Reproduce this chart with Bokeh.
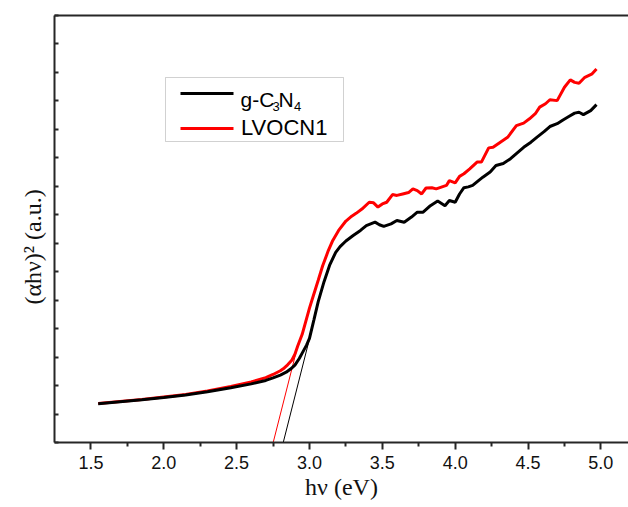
from bokeh.plotting import figure
from bokeh.models import Range1d, FixedTicker, LinearAxis, Label, BoxAnnotation
from bokeh.embed import file_html
from bokeh.resources import INLINE

# ---------------- data ----------------
gcn_x = [1.55, 1.70, 1.85, 2.00, 2.15, 2.30, 2.46, 2.60, 2.70, 2.75, 2.80, 2.84, 2.87, 2.90,
         2.93, 2.95, 2.98, 3.00, 3.03, 3.06, 3.10, 3.14, 3.18, 3.21, 3.25, 3.30, 3.35, 3.39,
         3.45, 3.48, 3.51, 3.56, 3.60, 3.65, 3.70, 3.74, 3.78, 3.83, 3.88, 3.93, 3.96, 4.00,
         4.03, 4.06, 4.09, 4.12, 4.16, 4.19, 4.24, 4.28, 4.33, 4.38, 4.42, 4.47, 4.52, 4.56,
         4.61, 4.65, 4.70, 4.74, 4.78, 4.82, 4.85, 4.88, 4.93, 4.97]
gcn_y = [1.36, 1.43, 1.50, 1.58, 1.67, 1.78, 1.92, 2.06, 2.18, 2.27, 2.37, 2.47, 2.58, 2.72,
         2.95, 3.14, 3.42, 3.66, 4.30, 4.95, 5.65, 6.25, 6.68, 6.88, 7.08, 7.27, 7.45, 7.62,
         7.74, 7.65, 7.59, 7.68, 7.80, 7.74, 7.92, 8.09, 8.09, 8.32, 8.48, 8.32, 8.50, 8.44,
         8.73, 8.95, 8.98, 9.03, 9.20, 9.32, 9.50, 9.73, 9.80, 9.97, 10.15, 10.37, 10.55, 10.72,
         10.92, 11.10, 11.20, 11.33, 11.45, 11.57, 11.60, 11.52, 11.66, 11.87]

lvocn_x = [1.55, 1.70, 1.85, 2.00, 2.15, 2.30, 2.46, 2.60, 2.70, 2.75, 2.80, 2.82, 2.85, 2.88,
           2.90, 2.92, 2.95, 2.97, 3.00, 3.02, 3.06, 3.09, 3.13, 3.16, 3.20, 3.25, 3.29, 3.32,
           3.36, 3.41, 3.44, 3.47, 3.50, 3.53, 3.57, 3.60, 3.64, 3.68, 3.71, 3.74, 3.77, 3.80,
           3.84, 3.87, 3.91, 3.94, 3.96, 4.00, 4.03, 4.06, 4.10, 4.15, 4.18, 4.23, 4.26, 4.31,
           4.36, 4.42, 4.47, 4.51, 4.55, 4.58, 4.62, 4.65, 4.70, 4.75, 4.79, 4.82, 4.85, 4.89,
           4.94, 4.97]
lvocn_y = [1.37, 1.44, 1.51, 1.60, 1.69, 1.81, 1.97, 2.13, 2.28, 2.39, 2.52, 2.59, 2.73, 2.90,
           3.10, 3.40, 3.80, 4.17, 4.72, 5.05, 5.70, 6.20, 6.75, 7.10, 7.45, 7.78, 7.95, 8.05,
           8.20, 8.44, 8.42, 8.27, 8.38, 8.44, 8.71, 8.68, 8.73, 8.78, 8.91, 8.85, 8.73, 8.94,
           8.95, 8.91, 8.98, 9.03, 9.20, 9.12, 9.35, 9.44, 9.61, 9.85, 9.85, 10.35, 10.37, 10.55,
           10.72, 11.13, 11.22, 11.37, 11.55, 11.78, 11.90, 12.04, 12.01, 12.48, 12.74, 12.65, 12.62, 12.83,
           12.95, 13.12]

# tangent (onset) lines
tan_lvocn_x = [2.751, 2.923]
tan_lvocn_y = [0.0, 3.47]
tan_gcn_x = [2.82, 3.003]
tan_gcn_y = [0.0, 3.70]

x_ticks = [1.5, 2.0, 2.5, 3.0, 3.5, 4.0, 4.5, 5.0]
x_tick_labels = ["1.5", "2.0", "2.5", "3.0", "3.5", "4.0", "4.5", "5.0"]
x_minor = [1.75, 2.25, 2.75, 3.25, 3.75, 4.25, 4.75]
y_ticks = list(range(0, 16))

series_names = ["g-C", "3", "N", "4"]
series2_name = "LVOCN1"

# ---------------- layout helpers (pixel -> data) ----------------
W, H = 628, 507
FRAME_L, FRAME_R, FRAME_T, FRAME_B = 54, 628, 15, 442
X0 = 1.25
PXX = 145.7
Y1 = 15.0
PXY = (FRAME_B - FRAME_T) / Y1


def dx(px):
    return X0 + (px - FRAME_L) / PXX


def dy(py):
    return (FRAME_B - py) / PXY


p = figure(width=W, height=H, output_backend="svg", toolbar_location=None,
           x_range=Range1d(X0, X0 + (FRAME_R - FRAME_L) / PXX),
           y_range=Range1d(0, Y1),
           min_border_left=FRAME_L, min_border_right=W - FRAME_R,
           min_border_top=FRAME_T, min_border_bottom=H - FRAME_B)
p.outline_line_color = None
p.xgrid.grid_line_color = None
p.ygrid.grid_line_color = None
p.background_fill_color = "white"
p.border_fill_color = "white"

AX = "#262626"
xa = p.xaxis[0]
xa.ticker = FixedTicker(ticks=x_ticks, minor_ticks=x_minor)
xa.major_label_overrides = {t: l for t, l in zip(x_ticks, x_tick_labels)}
xa.axis_line_width = 2
xa.axis_line_color = AX
xa.major_tick_line_color = AX
xa.minor_tick_line_color = AX
xa.major_tick_line_width = 2
xa.minor_tick_line_width = 2
xa.major_tick_out = 7
xa.major_tick_in = 0
xa.minor_tick_out = 4
xa.minor_tick_in = 0
xa.major_label_text_font = "Liberation Sans"
xa.major_label_text_font_size = "18px"
xa.major_label_text_color = "#111111"
xa.major_label_standoff = 6
xa.axis_label = "hν (eV)"
xa.axis_label_text_font = "Liberation Serif"
xa.axis_label_text_font_size = "24px"
xa.axis_label_text_font_style = "normal"
xa.axis_label_text_color = "#111111"
xa.axis_label_standoff = 2

ya = p.yaxis[0]
ya.ticker = FixedTicker(ticks=y_ticks, minor_ticks=[])
ya.axis_line_width = 2
ya.axis_line_color = AX
ya.major_tick_line_color = AX
ya.major_tick_line_width = 2
ya.major_tick_in = 4
ya.major_tick_out = 0
ya.minor_tick_line_color = None
ya.major_label_text_font_size = "0px"
ya.major_label_text_color = None
# trailing no-break spaces nudge the centred label slightly downwards, as in the reference
ya.axis_label = "(αhν)² (a.u.)" + "\u00a0" * 6
ya.axis_label_text_font = "Liberation Serif"
ya.axis_label_text_font_size = "24px"
ya.axis_label_text_font_style = "normal"
ya.axis_label_text_color = "#111111"
ya.axis_label_standoff = 9

top = LinearAxis(ticker=FixedTicker(ticks=[]), axis_line_width=2, axis_line_color=AX,
                 major_tick_line_color=None, minor_tick_line_color=None,
                 major_label_text_font_size="0px", major_label_text_color=None)
p.add_layout(top, "above")

# tangent lines
p.line(tan_lvocn_x, tan_lvocn_y, line_color="#ff0000", line_width=1)
p.line(tan_gcn_x, tan_gcn_y, line_color="#000000", line_width=1)

# curves
p.line(lvocn_x, lvocn_y, line_color="#ff0000", line_width=3)
p.line(gcn_x, gcn_y, line_color="#000000", line_width=3)

# legend
p.add_layout(BoxAnnotation(left=dx(165), right=dx(343), top=dy(77), bottom=dy(141),
                           fill_color="white", fill_alpha=1.0, line_color="#666666",
                           line_width=1))
p.add_layout(BoxAnnotation(left=dx(180), right=dx(233), top=dy(91.5), bottom=dy(94.5),
                           fill_color="#000000", fill_alpha=1.0, line_color=None))
p.add_layout(BoxAnnotation(left=dx(180), right=dx(233), top=dy(126.5), bottom=dy(129.5),
                           fill_color="#ff0000", fill_alpha=1.0, line_color=None))

LF = "Liberation Sans"
p.add_layout(Label(x=dx(240), y=dy(98.5), text=series_names[0], text_font=LF,
                   text_font_size="21px", text_baseline="middle", text_color="#000"))
p.add_layout(Label(x=dx(272), y=dy(105.5), text=series_names[1], text_font=LF,
                   text_font_size="13px", text_baseline="middle", text_color="#000"))
p.add_layout(Label(x=dx(278), y=dy(98.5), text=series_names[2], text_font=LF,
                   text_font_size="21px", text_baseline="middle", text_color="#000"))
p.add_layout(Label(x=dx(293.5), y=dy(105.5), text=series_names[3], text_font=LF,
                   text_font_size="13px", text_baseline="middle", text_color="#000"))
p.add_layout(Label(x=dx(240.5), y=dy(127), text=series2_name, text_font=LF,
                   text_font_size="22px", text_baseline="middle", text_color="#000"))

open("out.html", "w").write(file_html(p, INLINE))
